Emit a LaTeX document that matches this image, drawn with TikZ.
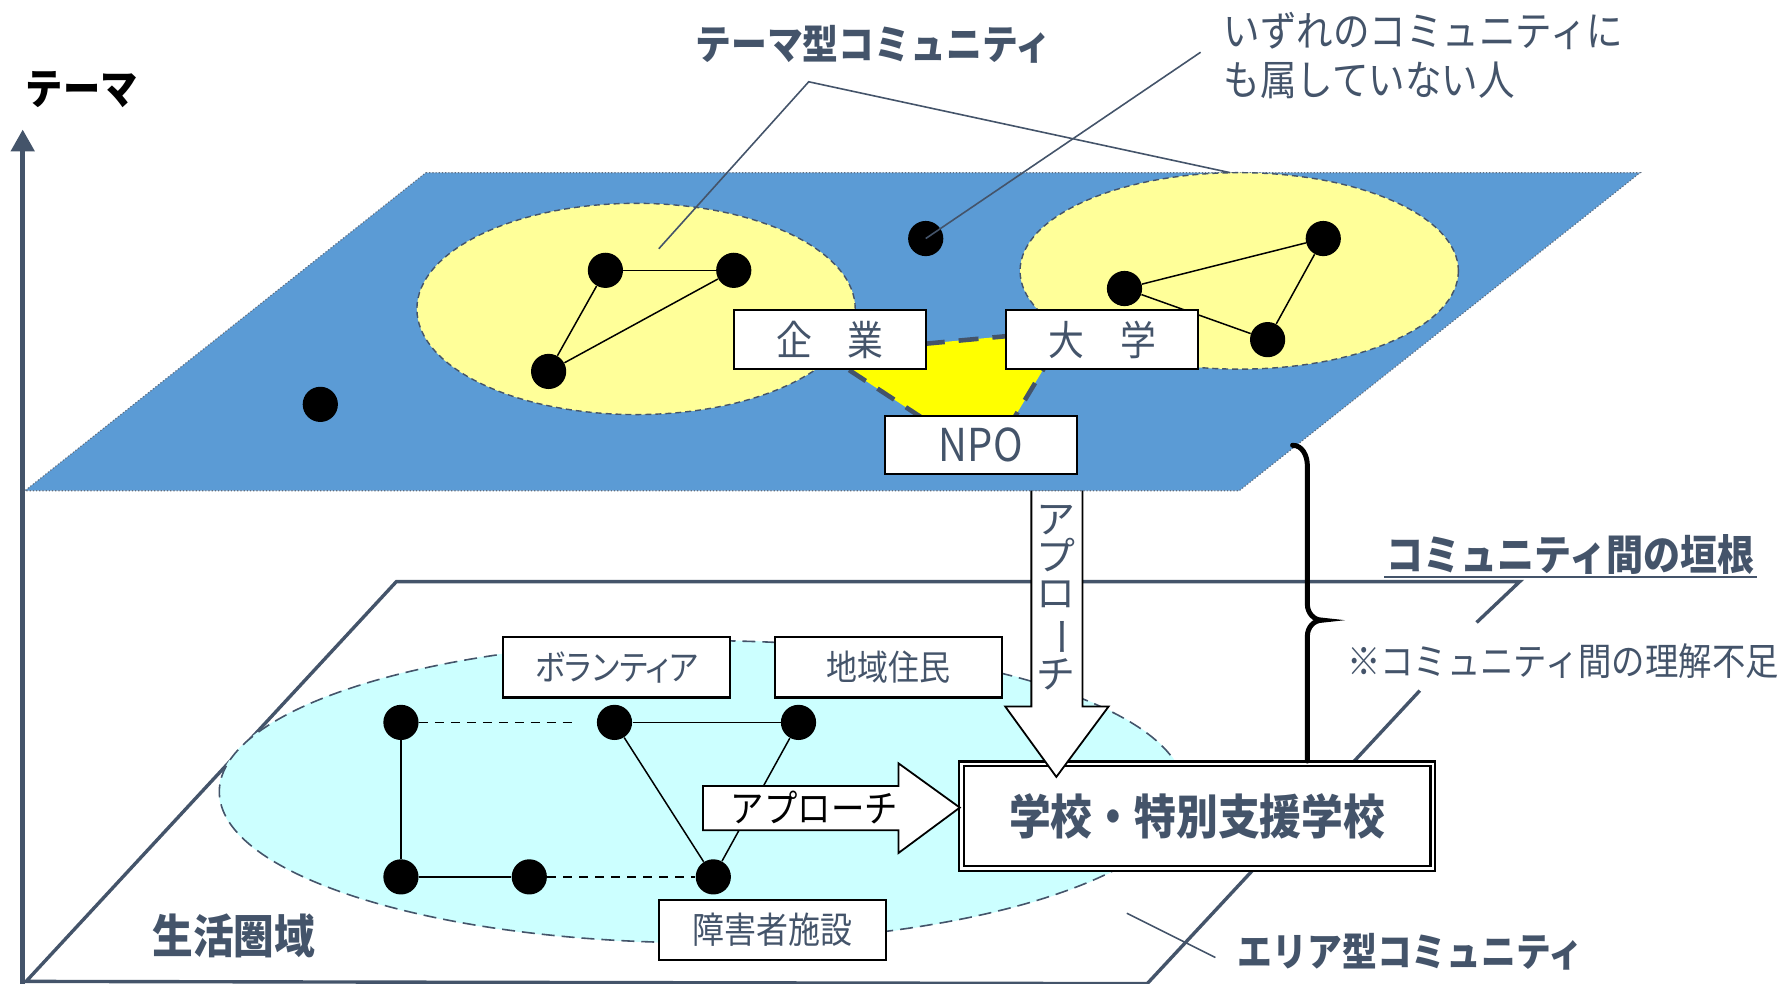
\documentclass[tikz,border=0pt]{standalone}
\usepackage{fontspec}
\usepackage{graphicx}
\setmainfont{Noto Sans CJK JP}[FakeStretch=0.88]
\newfontfamily\jpp{Noto Sans CJK JP}[RawFeature=+palt,FakeStretch=0.88]
\newfontfamily\jpn{Noto Sans CJK JP}
\usetikzlibrary{arrows.meta,calc}
\definecolor{slate}{HTML}{44546A}
\definecolor{planeblue}{HTML}{5B9BD5}
\definecolor{lyellow}{HTML}{FFFF99}
\definecolor{byellow}{HTML}{FFFF00}
\definecolor{lcyan}{HTML}{CCFFFF}
\begin{document}
\begin{tikzpicture}[x=0.02cm,y=-0.02cm,
  dot/.style={circle,fill=black,inner sep=0pt,minimum size=0.62cm},
  link/.style={black,line width=0.75pt},
  dlink/.style={black,line width=0.75pt,dash pattern=on 4.5pt off 3.5pt},
  lbox/.style={draw=black,fill=white,line width=1.1pt,text=slate,inner sep=0pt},
  leader/.style={slate,line width=0.8pt},
  blockarrow/.style={draw=black,fill=white,line width=0.9pt,line join=miter},
  lbl/.style={text=slate,inner sep=0pt},
]
\useasboundingbox (0,0) rectangle (1568,866);

% axis
\draw[slate,line width=2.6pt,-{Triangle[length=11pt,width=11.5pt]}] (20,866) -- (20,114);
\node[inner sep=0pt,font=\fontsize{21.2}{24}\selectfont\bfseries] (axl) at (72,79) {テーマ};

% lower plane
\draw[slate,line width=1.7pt,line join=miter] (1300,548) -- (1338,512) -- (349,512) -- (23,864) -- (1010,866) -- (1250,608);
\draw[lcyan!100,fill=lcyan] (618,697) ellipse [x radius=8.5cm,y radius=2.66cm];
\draw[slate,line width=0.8pt,dash pattern=on 6.5pt off 3.5pt] (618,697) ellipse [x radius=8.5cm,y radius=2.66cm];

% lower nodes
\node[dot] (A) at (353,636) {};
\node[dot] (B) at (541,636) {};
\node[dot] (C) at (703,636) {};
\node[dot] (D) at (353,772) {};
\node[dot] (E) at (466,772) {};
\node[dot] (F) at (628,772) {};
\coordinate (ABend) at (508,636);
\draw[dlink] (A) -- (ABend);
\draw[link] (B) -- (C);
\draw[link] (A) -- (D);
\draw[link] (D) -- (E);
\draw[dlink] (E) -- (F);
\draw[link] (B) -- (F);
\draw[link] (C) -- (F);

\node[lbox,minimum width=4cm,minimum height=1.06cm,font=\jpp\fontsize{17.6}{20}\selectfont] (vol) at (543,587.5) {ボランティア};
\node[lbox,minimum width=4cm,minimum height=1.06cm,font=\fontsize{17.6}{20}\selectfont] (res) at (782,587.5) {地域住民};
\node[lbox,minimum width=4cm,minimum height=1.06cm,font=\fontsize{18.2}{20}\selectfont] (fac) at (680,818.5) {障害者施設};

% school box
\node[draw=black,double=white,double distance=1.2pt,line width=1.2pt,fill=white,minimum width=8.3cm,minimum height=1.84cm,inner sep=0pt,text=slate,font=\fontsize{23.8}{26}\selectfont\bfseries] (sch) at (1054,718.5) {学校・特別支援学校};

% block arrows
\draw[blockarrow] (908,431) -- (953,431) -- (953,622) -- (976,622) -- (930,684) -- (885,622) -- (908,622) -- cycle;
\node[align=center,text=slate,inner sep=0pt,font=\jpn\fontsize{19.5}{18.7}\selectfont] (vapp) at (930,526) {ア\\プ\\ロ\\\rotatebox[origin=c]{-90}{ー}\\チ};
\draw[blockarrow] (619,692) -- (791,692) -- (791,672) -- (845,711) -- (791,751) -- (791,731) -- (619,731) -- cycle;
\node[inner sep=0pt,font=\fontsize{19}{21}\selectfont] (happ) at (717,711) {アプローチ};

% top plane
\fill[planeblue] (375,152) -- (1444,152) -- (1091,432) -- (22,432) -- cycle;
\draw[slate!85,line width=0.6pt,densely dotted] (375,152) -- (1444,152) -- (1091,432) -- (22,432) -- cycle;
\draw[fill=lyellow,draw=slate,line width=0.7pt,dash pattern=on 3pt off 2pt] (560,272) ellipse [x radius=3.86cm,y radius=1.86cm];
\draw[fill=lyellow,draw=slate,line width=0.7pt,dash pattern=on 3pt off 2pt] (1091,238.5) ellipse [x radius=3.86cm,y radius=1.73cm];

% top triangle among organisations
\coordinate (t1) at (725,311);
\coordinate (t2) at (939,291);
\coordinate (t3) at (870,406);
\fill[byellow] (t1) -- (t2) -- (t3) -- cycle;
\draw[slate,line width=2.3pt,dash pattern=on 10pt off 7pt] (t1) -- (t2) -- (t3) -- cycle;

% top dots
\node[dot] (p1) at (282,356) {};
\node[dot] (p2) at (533,238) {};
\node[dot] (p3) at (646,238) {};
\node[dot] (p4) at (483,327) {};
\node[dot] (p5) at (815,210) {};
\node[dot] (p6) at (1165,210) {};
\node[dot] (p7) at (990,254) {};
\node[dot] (p8) at (1116,299) {};
\draw[link] (p2) -- (p3);
\draw[link] (p2) -- (p4);
\draw[link] (p3) -- (p4);
\draw[link] (p7) -- (p6);
\draw[link] (p6) -- (p8);
\draw[link] (p7) -- (p8);

\node[lbox,minimum width=3.38cm,minimum height=1.04cm,font=\fontsize{20.4}{22}\selectfont] (kig) at (730.5,299) {企　業};
\node[lbox,minimum width=3.38cm,minimum height=1.04cm,font=\fontsize{20.4}{22}\selectfont] (dai) at (970.5,299) {大　学};
\node[lbox,minimum width=3.38cm,minimum height=1.02cm,font=\fontsize{22.7}{24}\selectfont] (npo) at (863.5,391.5) {NPO};

% brace
\draw[black,line width=2.5pt,line cap=round] (1138,392) to[out=0,in=90] (1151,410) -- (1151,532) to[out=-90,in=180] (1164,546) to[out=180,in=90] (1151,560) -- (1151,670);

% labels and leaders
\node[lbl,font=\fontsize{20.4}{22}\selectfont\bfseries] (tcom) at (769,39) {テーマ型コミュニティ};
\coordinate (tv) at (712,72);
\coordinate (tl) at (580,219);
\coordinate (tr) at (1083,152);
\draw[leader] (tl) -- (tv) -- (tr);

\node[lbl,anchor=west,align=left,font=\fontsize{20.8}{24.4}\selectfont] (none) at (1077,49) {いずれのコミュニティに\\も属していない人};
\coordinate (nl) at (1057,46);
\draw[leader] (nl) -- (p5.center);

\node[lbl,anchor=south,inner sep=1pt,font=\fontsize{21.1}{23}\selectfont\bfseries] (wall) at (1383,508) {コミュニティ間の垣根};
\draw[slate,line width=0.9pt] (wall.south west) -- (wall.south east);
\node[lbl,font=\fontsize{19}{21}\selectfont] (lack) at (1376,582) {※コミュニティ間の理解不足};

\node[lbl,font=\fontsize{23.2}{25}\selectfont\bfseries] (life) at (206,824) {生活圏域};
\node[lbl,font=\fontsize{19.8}{22}\selectfont\bfseries] (area) at (1242,838) {エリア型コミュニティ};
\coordinate (al) at (992,804);
\coordinate (ar) at (1070,843);
\draw[leader] (al) -- (ar);
\end{tikzpicture}
\end{document}
